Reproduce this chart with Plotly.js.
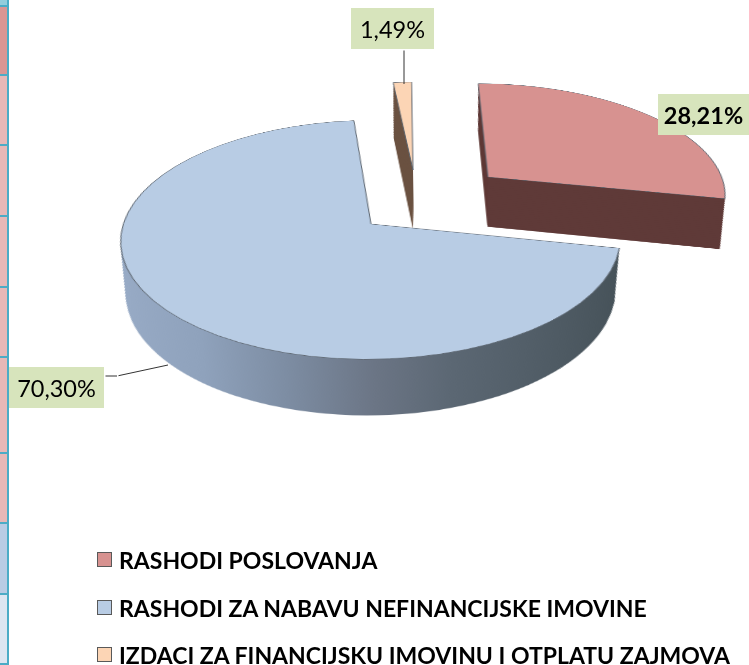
<!DOCTYPE html>
<html><head><meta charset="utf-8">
<script src="https://cdn.plot.ly/plotly-3.0.1.min.js"></script>
<style>html,body{margin:0;padding:0;background:#fff;overflow:hidden;width:749px;height:665px}#g{width:749px;height:730px}</style>
</head><body><div id="g"></div>
<script>
const categories=['RASHODI POSLOVANJA','RASHODI ZA NABAVU NEFINANCIJSKE IMOVINE','IZDACI ZA FINANCIJSKU IMOVINU I OTPLATU ZAJMOVA'];
const shares=[28.21,70.30,1.49];
const shareLabels=['28,21%','70,30%','1,49%'];
const topColors=['#d79290','#b8cce4','#fcd5b5'];
const sideColors=['#5f3a38','#5e6b7c','#6b5242'];

const W=749,H=730;
const theta=62.5*Math.PI/180, dist=1667;
const origin={x:374.5,y:310}, screen0={x:400,y:200};
const apex=[[488,177],[371,224],[413,170]];
const radius=[240,241,228];
const depth=[53,56,64];
const step=2;
const taper=0.25;
function toPlane(sx,sy){
  const u=sy-screen0.y, c=Math.cos(theta), sn=Math.sin(theta);
  const Y=u*dist/(c*dist+u*sn), s=dist/(dist-Y*sn);
  return {x:origin.x+(sx-screen0.x)/s, y:origin.y+Y, s:s};
}
function toScreenY(py){
  const Y=py-origin.y, sn=Math.sin(theta);
  return screen0.y+Y*Math.cos(theta)*dist/(dist-Y*sn);
}
const traces=[];
function addLayer(i,cx,cy,R,col,lw){
  traces.push({type:'pie',values:shares,labels:categories,sort:false,direction:'clockwise',rotation:0,
    textinfo:'none',hoverinfo:'skip',showlegend:false,
    domain:{x:[(cx-R)/W,(cx+R)/W],y:[1-(cy+R)/H,1-(cy-R)/H]},
    marker:{colors:shares.map((v,j)=>j===i?col:'rgba(0,0,0,0)'),
            line:{color:'#5d6670',width:shares.map((v,j)=>j===i?lw:0)}}});
}
[0,2,1].forEach(i=>{
  const p=toPlane(apex[i][0],apex[i][1]);
  const backY=toScreenY(p.y-radius[i]), frontY=toScreenY(p.y+radius[i]);
  for(let k=Math.round(depth[i]/step);k>=1;k--){
    const b=toPlane(apex[i][0],backY+k*step), f=toPlane(apex[i][0],frontY+k*step);
    const q=toPlane(apex[i][0],apex[i][1]+k*step);
    const R=(1-taper)*radius[i]*p.s/q.s+taper*(f.y-b.y)/2;
    addLayer(i,q.x,f.y-R,R,sideColors[i],0);
  }
  addLayer(i,p.x,p.y,radius[i],topColors[i],1);
});

const anns=[];
const font='Lato, Carlito, Calibri, sans-serif';
function box(x0,y0,x1,y1,fill,border){
  anns.push({xref:'paper',yref:'paper',x:x0/W,y:1-y0/H,xanchor:'left',yanchor:'top',text:'&nbsp;',showarrow:false,
    width:x1-x0-(border?2:0),height:y1-y0-(border?2:0),bgcolor:fill,borderpad:0,borderwidth:border?1:0,bordercolor:border||fill,font:{size:2}});
}
function label(t,x0,y0,x1,y1,bold){
  anns.push({xref:'paper',yref:'paper',x:x0/W,y:1-y0/H,xanchor:'left',yanchor:'top',text:bold?'<b>'+t+'</b>':t,showarrow:false,
    width:x1-x0,height:y1-y0,bgcolor:'#d7e4bc',borderpad:0,borderwidth:0,align:'center',valign:'middle',font:{family:font,size:23.5,color:'#000'}});
}
function lead(x0,y0,x1,y1){
  anns.push({xref:'paper',yref:'paper',x:x1/W,y:1-y1/H,axref:'pixel',ayref:'pixel',ax:x0-x1,ay:y0-y1,text:'',showarrow:true,arrowhead:0,arrowwidth:1,arrowcolor:'#333',standoff:0});
}
// table edge at the left
box(0,0,9,665,'#4bacc6');
const stripEdges=[0,7,76,146,217,288,358,454,524,595,665];
const stripFills=['#92cddc','#d99694','#e6b8b7','#e6b8b7','#e6b8b7','#e6b8b7','#e6b8b7','#e6b8b7','#b8cce4','#dce6f1'];
stripFills.forEach((f,i)=>box(0,stripEdges[i],6.5,stripEdges[i+1]-2,f));
// leaders and data labels
lead(404,49,404,84); lead(104,376,117,376); lead(117,376,168,365);
label(shareLabels[2],351,8,434,49);
label(shareLabels[0],658,94,749,135,true);
label(shareLabels[1],9,367,104,408);
// legend
const legendY=[560,608,655];
categories.forEach((c,i)=>{
  box(97,legendY[i]-8,112,legendY[i]+7,topColors[i],'#595959');
  anns.push({xref:'paper',yref:'paper',x:117/W,y:1-legendY[i]/H,xanchor:'left',yanchor:'middle',text:'<b>'+c+'</b>',showarrow:false,
    font:{family:font,size:23,color:'#000'}});
});

Plotly.newPlot('g',traces,{width:W,height:H,margin:{l:0,r:0,t:0,b:0},paper_bgcolor:'rgba(0,0,0,0)',plot_bgcolor:'rgba(0,0,0,0)',showlegend:false,annotations:anns},{displayModeBar:false,staticPlot:true}).then(gd=>{
  const svgs=gd.querySelectorAll('.main-svg');
  const plane=svgs[0];
  const NS='http://www.w3.org/2000/svg';
  const defs=plane.querySelector('defs')||plane.insertBefore(document.createElementNS(NS,'defs'),plane.firstChild);
  const grad=document.createElementNS(NS,'linearGradient');
  grad.setAttribute('id','blueSide');
  [[0,'#98abc6'],[.2,'#8fa2bc'],[.36,'#7d8da3'],[.52,'#6b7585'],[.66,'#5b6773'],[1,'#465259']].forEach(s=>{
    const st=document.createElementNS(NS,'stop');st.setAttribute('offset',s[0]);st.setAttribute('stop-color',s[1]);grad.appendChild(st);
  });
  defs.appendChild(grad);
  plane.querySelectorAll('path.surface').forEach(p=>{
    if(p.style.fill==='rgb(94, 107, 124)') p.style.fill='url(#blueSide)';
  });
  plane.style.transformOrigin=origin.x+'px '+origin.y+'px';
  plane.style.transform='translate('+(screen0.x-origin.x)+'px,'+(screen0.y-origin.y)+'px) perspective('+dist+'px) rotateX('+(theta*180/Math.PI)+'deg)';
});
</script></body></html>
